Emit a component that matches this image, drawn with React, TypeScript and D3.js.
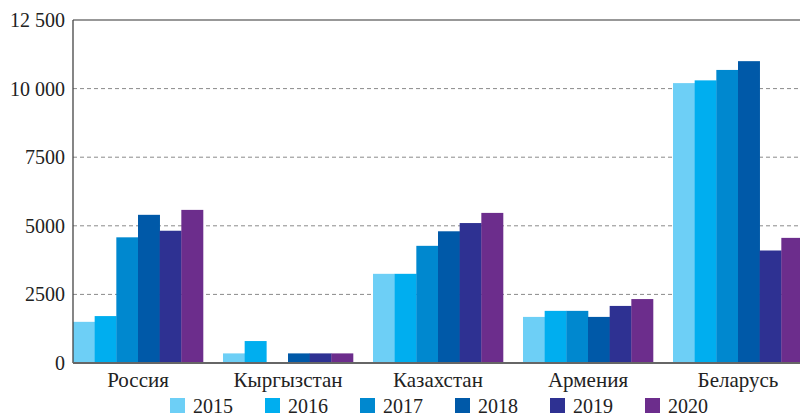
import React from "react";
import * as d3 from "d3";

const categories = ["Россия", "Кыргызстан", "Казахстан", "Армения", "Беларусь"];
const years = ["2015", "2016", "2017", "2018", "2019", "2020"];
const values2015 = [1500, 350, 3250, 1680, 10200];
const values2016 = [1710, 800, 3250, 1900, 10300];
const values2017 = [4580, 0, 4270, 1900, 10680];
const values2018 = [5400, 350, 4800, 1680, 11000];
const values2019 = [4820, 350, 5100, 2080, 4100];
const values2020 = [5580, 350, 5470, 2330, 4560];
const seriesValues = [values2015, values2016, values2017, values2018, values2019, values2020];
const colors = ["#6dcff6", "#00aeef", "#0088cf", "#0059a8", "#2e3192", "#6c2d8c"];
const yTicks = [0, 2500, 5000, 7500, 10000, 12500];
const yTickLabels = ["0", "2500", "5000", "7500", "10 000", "12 500"];

const W = 800;
const H = 416;
const left = 73;
const top = 20;
const bottom = 363;

export default function App() {
  const x0 = d3
    .scaleBand<string>()
    .domain(categories)
    .range([left - 10, left - 10 + 750])
    .paddingInner(20 / 150)
    .paddingOuter(10 / 150);
  const x1 = d3.scaleBand<string>().domain(years).range([0, x0.bandwidth()]);
  const y = d3.scaleLinear().domain([0, 12500]).range([bottom, top]);
  const font = "Liberation Serif, Tinos, DejaVu Serif, serif";
  const ts: React.CSSProperties = { fontFamily: font, fontSize: "20px" };
  const cs: React.CSSProperties = { fontFamily: font, fontSize: "21px" };

  return (
    <svg
      width={W}
      height={H}
      style={{ position: "absolute", left: 0, top: 0, background: "#fff" }}
    >
      {yTicks.slice(1, -1).map((t) => (
        <line
          key={t}
          x1={left}
          x2={W}
          y1={y(t)}
          y2={y(t)}
          stroke="#8a8a8a"
          strokeWidth={1}
          strokeDasharray="4,3"
        />
      ))}
      <line x1={left} x2={W} y1={y(12500)} y2={y(12500)} stroke="#333" strokeWidth={1.2} />
      {categories.map((c, ci) => (
        <g key={c} transform={`translate(${x0(c)},0)`}>
          {years.map((yr, si) => {
            const v = seriesValues[si][ci];
            return (
              <rect
                key={yr}
                x={x1(yr)}
                y={y(v)}
                width={x1.bandwidth() + 0.3}
                height={bottom - y(v)}
                fill={colors[si]}
              />
            );
          })}
          <text
            x={x0.bandwidth() / 2}
            y={387}
            textAnchor="middle"
            style={cs}
            fill="#222"
          >
            {c}
          </text>
        </g>
      ))}
      <line x1={left} x2={left} y1={top} y2={bottom} stroke="#444" strokeWidth={1.3} />
      <line x1={left} x2={W} y1={bottom} y2={bottom} stroke="#666" strokeWidth={2} />
      {yTicks.map((t, i) => (
        <text
          key={t}
          x={65}
          y={y(t)}
          dy="0.35em"
          textAnchor="end"
          style={ts}
          fill="#222"
        >
          {yTickLabels[i]}
        </text>
      ))}
      {years.map((yr, i) => (
        <g key={yr} transform={`translate(${170 + i * 95},398)`}>
          <rect x={0} y={0} width={15} height={15} fill={colors[i]} />
          <text x={23} y={15} style={ts} fill="#222">
            {yr}
          </text>
        </g>
      ))}
    </svg>
  );
}
